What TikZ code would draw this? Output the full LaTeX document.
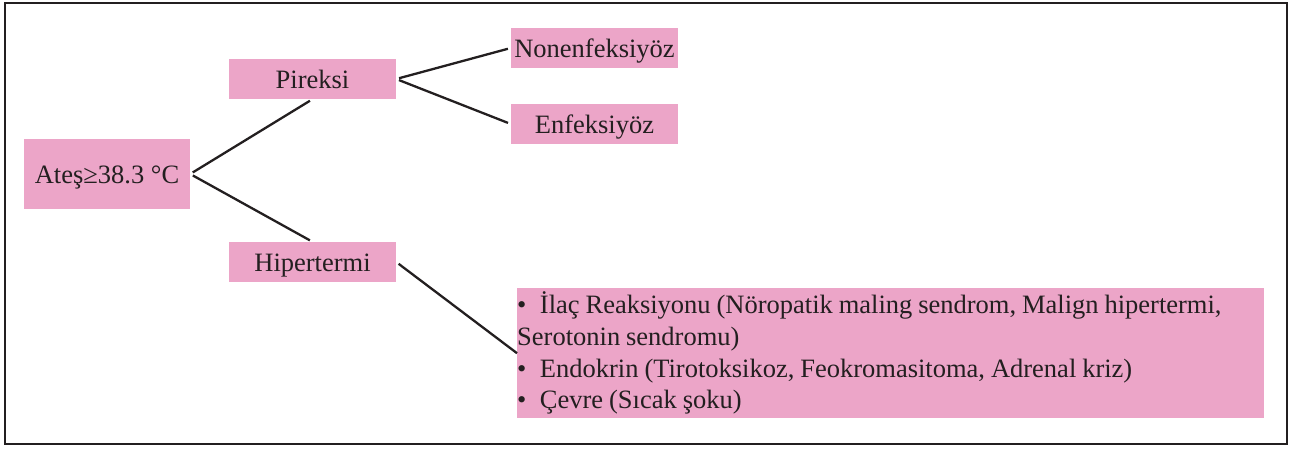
\documentclass[tikz,border=0pt]{standalone}
\usepackage{fontspec}
\setmainfont{Liberation Serif}
\definecolor{boxpink}{RGB}{236,165,200}
\definecolor{ink}{RGB}{35,31,32}
\newcommand{\bul}{•\hspace{13.5pt}}
\begin{document}
\begin{tikzpicture}[x=1pt,y=-1pt,
  pinkfill/.style={fill=boxpink, draw=none, text=ink, inner sep=0pt, font=\fontsize{26.5}{31.7}\selectfont},
  small/.style={pinkfill, text height=22pt, text depth=4pt, minimum width=167pt, minimum height=40pt},
  link/.style={draw=ink, line width=2.3pt, shorten <=3pt, shorten >=3pt}]
\useasboundingbox (0,0) rectangle (1296,450);
\draw[ink, line width=2.6pt] (5,3) rectangle (1287,444);
\node[small, minimum width=166pt, minimum height=70pt] (ates) at (107,174) {Ateş≥38.3 °C};
\node[small] (pir) at (312.5,79) {Pireksi};
\node[small] (hip) at (312.5,262) {Hipertermi};
\node[small] (non) at (594.5,48) {Nonenfeksiyöz};
\node[small] (enf) at (594.5,124) {Enfeksiyöz};
\node[pinkfill, anchor=north west, minimum width=747pt, minimum height=130pt, text width=747pt, align=left,
      execute at begin node={\spaceskip=5.9pt plus 1pt minus 1pt\relax}] (hbox) at (517,288)
 {\bul İlaç Reaksiyonu (Nöropatik maling sendrom, Malign hipertermi,\\
  Serotonin sendromu)\\
  \bul Endokrin (Tirotoksikoz, Feokromasitoma, Adrenal kriz)\\
  \bul Çevre (Sıcak şoku)};
\draw[link] (ates.east) -- (pir.south);
\draw[link] (ates.east) -- (hip.north);
\draw[link] (pir.east) -- (non.west);
\draw[link] (pir.east) -- (enf.west);
\draw[link, shorten >=0pt] (hip.east) -- (hbox.west);
\end{tikzpicture}
\end{document}
